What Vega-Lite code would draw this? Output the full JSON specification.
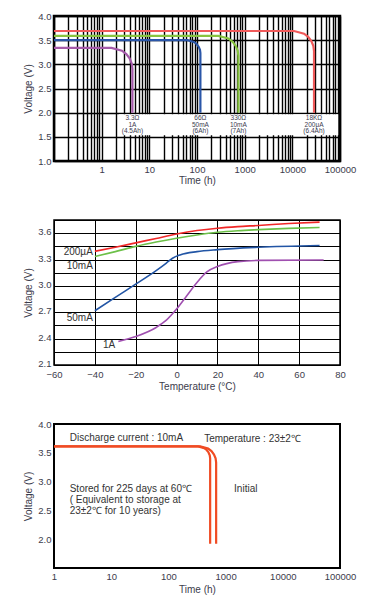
{
  "$schema": "https://vega.github.io/schema/vega-lite/v6.json",
  "background": "white",
  "padding": {"left": 22, "top": 9, "right": 5, "bottom": 5},
  "spacing": 59,
  "bounds": "flush",
  "resolve": {"scale": {"color": "independent"}},
  "config": {
    "axis": {"labelFont": "Liberation Sans", "labelFontSize": 9.5, "labelColor": "#3c3c4c", "titleFont": "Liberation Sans", "titleFontSize": 10, "titleFontWeight": "normal", "titleColor": "#3c3c4c", "ticks": false, "domain": false, "labelPadding": 3, "labelFlush": false, "labelOverlap": false, "labelBound": false},
    "axisX": {"titlePadding": 2},
    "axisY": {"titlePadding": 4},
    "text": {"font": "Liberation Sans"}
  },
  "datasets": {
    "band1": [{"t": 2.3, "t2": 92000, "v": 1.535, "v2": 1.965}],
    "curves1": [
      {"s": "1A", "i": 0, "t": 0.1, "v": 3.34},
      {"s": "1A", "i": 1, "t": 1.606, "v": 3.34},
      {"s": "1A", "i": 2, "t": 2.665, "v": 3.282},
      {"s": "1A", "i": 3, "t": 3.288, "v": 3.213},
      {"s": "1A", "i": 4, "t": 3.864, "v": 3.123},
      {"s": "1A", "i": 5, "t": 4.272, "v": 3.018},
      {"s": "1A", "i": 6, "t": 4.422, "v": 2.905},
      {"s": "1A", "i": 7, "t": 4.422, "v": 2.0},
      {"s": "50mA", "i": 0, "t": 0.1, "v": 3.5},
      {"s": "50mA", "i": 1, "t": 62.9, "v": 3.5},
      {"s": "50mA", "i": 2, "t": 86.1, "v": 3.464},
      {"s": "50mA", "i": 3, "t": 98.0, "v": 3.421},
      {"s": "50mA", "i": 4, "t": 108.3, "v": 3.365},
      {"s": "50mA", "i": 5, "t": 115.4, "v": 3.3},
      {"s": "50mA", "i": 6, "t": 117.8, "v": 3.231},
      {"s": "50mA", "i": 7, "t": 117.8, "v": 2.0},
      {"s": "10mA", "i": 0, "t": 0.1, "v": 3.59},
      {"s": "10mA", "i": 1, "t": 280.9, "v": 3.59},
      {"s": "10mA", "i": 2, "t": 455, "v": 3.535},
      {"s": "10mA", "i": 3, "t": 556, "v": 3.469},
      {"s": "10mA", "i": 4, "t": 648, "v": 3.383},
      {"s": "10mA", "i": 5, "t": 714, "v": 3.283},
      {"s": "10mA", "i": 6, "t": 737.9, "v": 3.176},
      {"s": "10mA", "i": 7, "t": 737.9, "v": 2.0},
      {"s": "200uA", "i": 0, "t": 0.1, "v": 3.69},
      {"s": "200uA", "i": 1, "t": 10854, "v": 3.69},
      {"s": "200uA", "i": 2, "t": 17596, "v": 3.635},
      {"s": "200uA", "i": 3, "t": 21481, "v": 3.569},
      {"s": "200uA", "i": 4, "t": 25053, "v": 3.483},
      {"s": "200uA", "i": 5, "t": 27589, "v": 3.383},
      {"s": "200uA", "i": 6, "t": 28508, "v": 3.276},
      {"s": "200uA", "i": 7, "t": 28508, "v": 2.0}
    ],
    "labels1": [
      {"t": 4.422, "v": 1.88, "label": "3.3Ω"},
      {"t": 4.422, "v": 1.745, "label": "1A"},
      {"t": 4.422, "v": 1.625, "label": "(4.5Ah)"},
      {"t": 117.8, "v": 1.88, "label": "66Ω"},
      {"t": 117.8, "v": 1.745, "label": "50mA"},
      {"t": 117.8, "v": 1.625, "label": "(6Ah)"},
      {"t": 737.9, "v": 1.88, "label": "330Ω"},
      {"t": 737.9, "v": 1.745, "label": "10mA"},
      {"t": 737.9, "v": 1.625, "label": "(7Ah)"},
      {"t": 28508, "v": 1.88, "label": "18KΩ"},
      {"t": 28508, "v": 1.745, "label": "200μA"},
      {"t": 28508, "v": 1.625, "label": "(6.4Ah)"}
    ],
    "curves2": [
      {"s": "r200uA", "c": -40, "v": 3.394},
      {"s": "r200uA", "c": -30, "v": 3.44},
      {"s": "r200uA", "c": -20, "v": 3.49},
      {"s": "r200uA", "c": -10, "v": 3.54},
      {"s": "r200uA", "c": 0, "v": 3.59},
      {"s": "r200uA", "c": 10, "v": 3.63},
      {"s": "r200uA", "c": 20, "v": 3.657},
      {"s": "r200uA", "c": 30, "v": 3.675},
      {"s": "r200uA", "c": 40, "v": 3.688},
      {"s": "r200uA", "c": 55, "v": 3.71},
      {"s": "r200uA", "c": 70, "v": 3.726},
      {"s": "g10mA", "c": -40, "v": 3.334},
      {"s": "g10mA", "c": -30, "v": 3.39},
      {"s": "g10mA", "c": -20, "v": 3.45},
      {"s": "g10mA", "c": -10, "v": 3.5},
      {"s": "g10mA", "c": 0, "v": 3.543},
      {"s": "g10mA", "c": 10, "v": 3.58},
      {"s": "g10mA", "c": 20, "v": 3.61},
      {"s": "g10mA", "c": 30, "v": 3.628},
      {"s": "g10mA", "c": 40, "v": 3.64},
      {"s": "g10mA", "c": 55, "v": 3.655},
      {"s": "g10mA", "c": 70, "v": 3.665},
      {"s": "b50mA", "c": -40, "v": 2.717},
      {"s": "b50mA", "c": -30, "v": 2.87},
      {"s": "b50mA", "c": -20, "v": 3.02},
      {"s": "b50mA", "c": -10, "v": 3.174},
      {"s": "b50mA", "c": -5, "v": 3.26},
      {"s": "b50mA", "c": -2, "v": 3.315},
      {"s": "b50mA", "c": 2, "v": 3.355},
      {"s": "b50mA", "c": 10, "v": 3.39},
      {"s": "b50mA", "c": 20, "v": 3.413},
      {"s": "b50mA", "c": 40, "v": 3.44},
      {"s": "b50mA", "c": 70, "v": 3.46},
      {"s": "p1A", "c": -28.5, "v": 2.367},
      {"s": "p1A", "c": -20, "v": 2.424},
      {"s": "p1A", "c": -10, "v": 2.527},
      {"s": "p1A", "c": -5, "v": 2.61},
      {"s": "p1A", "c": 0, "v": 2.736},
      {"s": "p1A", "c": 5, "v": 2.888},
      {"s": "p1A", "c": 10, "v": 3.04},
      {"s": "p1A", "c": 15, "v": 3.162},
      {"s": "p1A", "c": 20, "v": 3.22},
      {"s": "p1A", "c": 30, "v": 3.276},
      {"s": "p1A", "c": 40, "v": 3.29},
      {"s": "p1A", "c": 72, "v": 3.295}
    ],
    "labels2": [
      {"c": -41, "v": 3.383, "label": "200µA"},
      {"c": -41, "v": 3.23, "label": "10mA"},
      {"c": -41, "v": 2.633, "label": "50mA"},
      {"c": -30, "v": 2.325, "label": "1A"}
    ],
    "curves3": [
      {"s": "stored", "i": 0, "t": 1, "v": 3.61},
      {"s": "stored", "i": 1, "t": 331.8, "v": 3.61},
      {"s": "stored", "i": 2, "t": 422.1, "v": 3.582},
      {"s": "stored", "i": 3, "t": 466.6, "v": 3.549},
      {"s": "stored", "i": 4, "t": 503.5, "v": 3.506},
      {"s": "stored", "i": 5, "t": 528.3, "v": 3.456},
      {"s": "stored", "i": 6, "t": 537, "v": 3.402},
      {"s": "stored", "i": 7, "t": 537, "v": 1.92},
      {"s": "initial", "i": 0, "t": 1, "v": 3.61},
      {"s": "initial", "i": 1, "t": 359.5, "v": 3.61},
      {"s": "initial", "i": 2, "t": 495.6, "v": 3.573},
      {"s": "initial", "i": 3, "t": 566.1, "v": 3.529},
      {"s": "initial", "i": 4, "t": 626.9, "v": 3.471},
      {"s": "initial", "i": 5, "t": 668.3, "v": 3.404},
      {"s": "initial", "i": 6, "t": 683.3, "v": 3.332},
      {"s": "initial", "i": 7, "t": 683.3, "v": 1.92}
    ],
    "labels3": [
      {"t": 1.88, "v": 3.76, "label": "Discharge current : 10mA"},
      {"t": 422, "v": 3.74, "label": "Temperature : 23±2℃"},
      {"t": 1.88, "v": 2.87, "label": "Stored for 225 days at 60℃"},
      {"t": 1.88, "v": 2.68, "label": "( Equivalent to storage at"},
      {"t": 1.88, "v": 2.49, "label": "23±2℃ for 10 years)"},
      {"t": 1406, "v": 2.87, "label": "Initial"}
    ]
  },
  "vconcat": [
    {
      "width": 286,
      "height": 145,
      "view": {"stroke": "black", "strokeWidth": 2.5},
      "encoding": {
        "x": {"field": "t", "type": "quantitative", "title": "Time (h)",
          "scale": {"type": "log", "domain": [0.1, 100000], "nice": false},
          "axis": {"values": [0.1,0.2,0.3,0.4,0.5,0.6,0.7,0.8,0.9,1,2,3,4,5,6,7,8,9,10,20,30,40,50,60,70,80,90,100,200,300,400,500,600,700,800,900,1000,2000,3000,4000,5000,6000,7000,8000,9000,10000,20000,30000,40000,50000,60000,70000,80000,90000,100000],
            "format": "d",
            "labelExpr": "indexof([1,10,100,1000,10000,100000], datum.value) >= 0 ? datum.label : ''",
            "grid": true, "gridColor": "black", "gridWidth": 1.4, "gridOpacity": 1}},
        "y": {"field": "v", "type": "quantitative", "title": "Voltage (V)",
          "scale": {"domain": [1, 4], "nice": false, "zero": false},
          "axis": {"values": [1,1.5,2,2.5,3,3.5,4], "format": ".1f", "grid": true, "gridColor": "black", "gridWidth": 1.4, "gridOpacity": 1}}
      },
      "layer": [
        {"data": {"name": "band1"}, "mark": {"type": "rect", "fill": "white"},
          "encoding": {"x2": {"field": "t2"}, "y2": {"field": "v2"}}},
        {"data": {"name": "curves1"}, "mark": {"type": "line", "strokeWidth": 2.2, "clip": true},
          "encoding": {
            "color": {"field": "s", "type": "nominal", "legend": null,
              "scale": {"domain": ["1A", "50mA", "10mA", "200uA"], "range": ["#A55AAA", "#2A56A8", "#88C440", "#F05A5A"]}},
            "order": {"field": "i", "type": "quantitative"}}},
        {"data": {"name": "labels1"}, "mark": {"type": "text", "fontSize": 6.5, "color": "#3c3c50", "align": "center", "baseline": "middle"},
          "encoding": {"text": {"field": "label"}}}
      ]
    },
    {
      "width": 286,
      "height": 145,
      "view": {"stroke": "black", "strokeWidth": 1.5},
      "encoding": {
        "x": {"field": "c", "type": "quantitative", "title": "Temperature (°C)",
          "scale": {"domain": [-60, 80], "nice": false},
          "axis": {"values": [-60,-40,-20,0,20,40,60,80], "grid": true, "gridColor": "black", "gridWidth": 1, "gridOpacity": 1, "labelPadding": 4, "titlePadding": 3}},
        "y": {"field": "v", "type": "quantitative", "title": "Voltage (V)",
          "scale": {"domain": [2.1, 3.75], "nice": false, "zero": false},
          "axis": {"values": [2.1,2.25,2.4,2.55,2.7,2.85,3,3.15,3.3,3.45,3.6,3.75], "format": ".1f",
            "labelExpr": "indexof([2.1,2.4,2.7,3,3.3,3.6], datum.value) >= 0 ? datum.label : ''",
            "labelOffset": -1.5,
            "grid": true, "gridColor": "black", "gridWidth": 1, "gridOpacity": 1}}
      },
      "layer": [
        {"data": {"name": "curves2"}, "mark": {"type": "line", "strokeWidth": 1.6, "interpolate": "monotone"},
          "encoding": {
            "color": {"field": "s", "type": "nominal", "legend": null,
              "scale": {"domain": ["r200uA", "g10mA", "b50mA", "p1A"], "range": ["#F02828", "#6CC048", "#2255A5", "#A050B0"]}}}},
        {"data": {"name": "labels2"}, "mark": {"type": "text", "fontSize": 10, "color": "#333333", "align": "right", "baseline": "middle"},
          "encoding": {"text": {"field": "label"}}}
      ]
    },
    {
      "width": 286,
      "height": 144,
      "view": {"stroke": "black", "strokeWidth": 2},
      "encoding": {
        "x": {"field": "t", "type": "quantitative", "title": "Time (h)",
          "scale": {"type": "log", "domain": [1, 100000], "nice": false},
          "axis": {"values": [1,10,100,1000,10000,100000], "format": "d", "grid": false, "titlePadding": 4}},
        "y": {"field": "v", "type": "quantitative", "title": "Voltage (V)",
          "scale": {"domain": [1.5, 4], "nice": false, "zero": false},
          "axis": {"values": [2,2.5,3,3.5,4], "format": ".1f", "grid": false}}
      },
      "layer": [
        {"data": {"name": "curves3"}, "mark": {"type": "line", "strokeWidth": 2.2, "color": "#F04B23"},
          "encoding": {"detail": {"field": "s"}, "order": {"field": "i", "type": "quantitative"}}},
        {"data": {"name": "labels3"}, "mark": {"type": "text", "fontSize": 10, "color": "#333333", "align": "left", "baseline": "middle"},
          "encoding": {"text": {"field": "label"}}}
      ]
    }
  ]
}
